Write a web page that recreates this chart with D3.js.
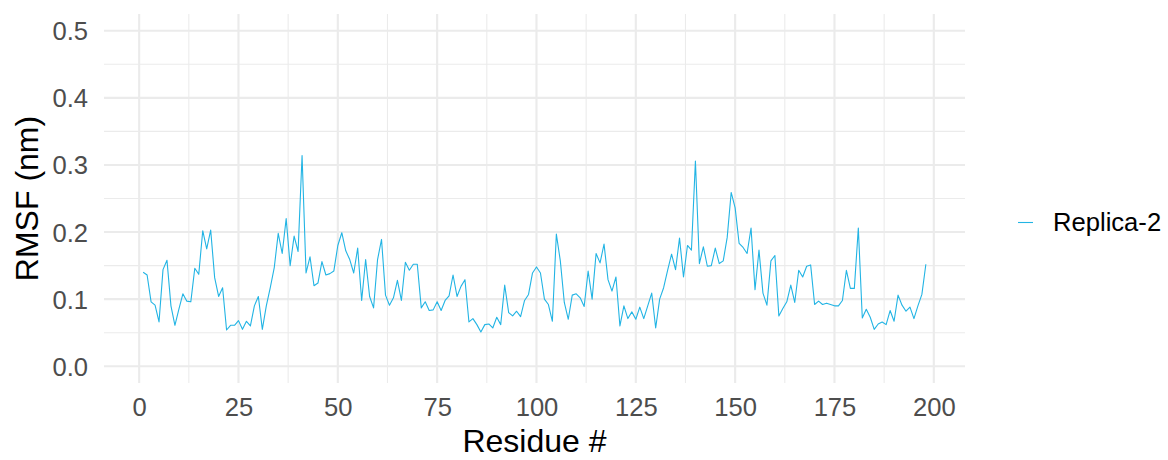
<!DOCTYPE html>
<html>
<head>
<meta charset="utf-8">
<script src="https://cdn.jsdelivr.net/npm/d3@7"></script>
<style>
  html, body { margin: 0; padding: 0; background: #fff; }
  svg { display: block; font-family: "Liberation Sans", Arial, sans-serif; }
</style>
</head>
<body>
<svg id="chart" width="1168" height="460"></svg>
<script>
// Per-residue RMSF (nm) for replica 2, residues 1..198
const residues = d3.range(1, 199);
const rmsf = [
  0.140, 0.136, 0.096, 0.091, 0.066, 0.144, 0.158, 0.090, 0.061, 0.085,
  0.108, 0.097, 0.096, 0.146, 0.137, 0.202, 0.175, 0.203, 0.132, 0.104,
  0.117, 0.054, 0.061, 0.061, 0.068, 0.055, 0.067, 0.060, 0.090, 0.104,
  0.055, 0.090, 0.117, 0.147, 0.198, 0.168, 0.220, 0.150, 0.194, 0.171,
  0.314, 0.139, 0.163, 0.120, 0.124, 0.156, 0.136, 0.138, 0.142, 0.180,
  0.199, 0.172, 0.159, 0.139, 0.176, 0.098, 0.159, 0.104, 0.087, 0.159,
  0.189, 0.106, 0.091, 0.102, 0.128, 0.098, 0.155, 0.143, 0.152, 0.152,
  0.087, 0.096, 0.083, 0.084, 0.096, 0.083, 0.098, 0.105, 0.136, 0.104,
  0.119, 0.129, 0.066, 0.071, 0.062, 0.051, 0.062, 0.063, 0.057, 0.073,
  0.062, 0.121, 0.080, 0.075, 0.082, 0.074, 0.098, 0.107, 0.139, 0.148,
  0.139, 0.100, 0.092, 0.067, 0.197, 0.157, 0.095, 0.070, 0.106, 0.108,
  0.102, 0.089, 0.142, 0.100, 0.168, 0.154, 0.182, 0.129, 0.112, 0.133,
  0.060, 0.090, 0.071, 0.081, 0.070, 0.088, 0.071, 0.090, 0.109, 0.057,
  0.100, 0.117, 0.143, 0.167, 0.144, 0.191, 0.133, 0.180, 0.173, 0.306,
  0.153, 0.178, 0.149, 0.150, 0.176, 0.153, 0.157, 0.192, 0.259, 0.236,
  0.183, 0.177, 0.168, 0.206, 0.114, 0.173, 0.109, 0.091, 0.157, 0.165,
  0.075, 0.086, 0.096, 0.121, 0.095, 0.143, 0.133, 0.149, 0.151, 0.092,
  0.097, 0.092, 0.094, 0.092, 0.090, 0.090, 0.098, 0.143, 0.116, 0.116,
  0.206, 0.072, 0.085, 0.073, 0.055, 0.063, 0.066, 0.062, 0.083, 0.067,
  0.106, 0.091, 0.082, 0.088, 0.071, 0.090, 0.107, 0.152
];
const xTicks = [0, 25, 50, 75, 100, 125, 150, 175, 200];
const xMinor = [12.5, 37.5, 62.5, 87.5, 112.5, 137.5, 162.5, 187.5];
const yTicks = [0.0, 0.1, 0.2, 0.3, 0.4, 0.5];
const yMinor = [0.05, 0.15, 0.25, 0.35, 0.45];
const seriesName = "Replica-2";

const data = residues.map((r, i) => ({ r, v: rmsf[i] }));

const svg = d3.select("#chart");
const panel = { left: 104, right: 965, top: 14, bottom: 383 };
const lineColor = "#22B4E4";
const gridColor = "#EBEBEB";

// continuous scales with ggplot-style 5% padding on x and fixed 0-0.5 limits on y
const xPad = (198 - 1) * 0.05;
const x = d3.scaleLinear().domain([1 - xPad, 198 + xPad]).range([panel.left, panel.right]);
const y = d3.scaleLinear().domain([-0.025, 0.525]).range([panel.bottom, panel.top]);

const grid = svg.append("g");
// minor grid
grid.selectAll(".xminor").data(xMinor).join("line")
  .attr("x1", d => x(d)).attr("x2", d => x(d))
  .attr("y1", panel.top).attr("y2", panel.bottom)
  .attr("stroke", gridColor).attr("stroke-width", 1.07);
grid.selectAll(".yminor").data(yMinor).join("line")
  .attr("y1", d => y(d)).attr("y2", d => y(d))
  .attr("x1", panel.left).attr("x2", panel.right)
  .attr("stroke", gridColor).attr("stroke-width", 1.07);
// major grid
grid.selectAll(".xmajor").data(xTicks).join("line")
  .attr("x1", d => x(d)).attr("x2", d => x(d))
  .attr("y1", panel.top).attr("y2", panel.bottom)
  .attr("stroke", gridColor).attr("stroke-width", 2.13);
grid.selectAll(".ymajor").data(yTicks).join("line")
  .attr("y1", d => y(d)).attr("y2", d => y(d))
  .attr("x1", panel.left).attr("x2", panel.right)
  .attr("stroke", gridColor).attr("stroke-width", 2.13);

// axes (labels only, theme_minimal has no axis lines or ticks)
const xAxis = d3.axisBottom(x).tickValues(xTicks).tickSize(0).tickPadding(0).tickFormat(d3.format("d"));
const gx = svg.append("g").attr("transform", `translate(0,${panel.bottom})`).call(xAxis);
gx.select(".domain").remove();
gx.selectAll("text")
  .attr("y", 0).attr("dy", null)
  .attr("transform", "translate(0,33)")
  .attr("fill", "#4D4D4D").style("font-size", "25.6px")
  .style("font-family", "'Liberation Sans', Arial, sans-serif");

const yAxis = d3.axisLeft(y).tickValues(yTicks).tickSize(0).tickPadding(0).tickFormat(d3.format(".1f"));
const gy = svg.append("g").attr("transform", `translate(${panel.left - 16},0)`).call(yAxis);
gy.select(".domain").remove();
gy.selectAll("text")
  .attr("dy", "0.35em")
  .attr("fill", "#4D4D4D").style("font-size", "25.6px")
  .style("font-family", "'Liberation Sans', Arial, sans-serif");

// data line
const line = d3.line().x(d => x(d.r)).y(d => y(d.v));
svg.append("path").datum(data)
  .attr("d", line)
  .attr("fill", "none")
  .attr("stroke", lineColor)
  .attr("stroke-width", 1.1)
  .attr("stroke-linejoin", "round");

// axis titles
svg.append("text")
  .attr("x", (panel.left + panel.right) / 2).attr("y", 452)
  .attr("text-anchor", "middle")
  .attr("fill", "#000").style("font-size", "32px")
  .text("Residue #");
svg.append("text")
  .attr("transform", `translate(38,${(panel.top + panel.bottom) / 2}) rotate(-90)`)
  .attr("text-anchor", "middle")
  .attr("fill", "#000").style("font-size", "32px")
  .text("RMSF (nm)");

// legend
const lg = svg.append("g").attr("transform", "translate(1018,222.5)");
lg.append("line").attr("x1", 0).attr("x2", 15).attr("y1", 0).attr("y2", 0)
  .attr("stroke", lineColor).attr("stroke-width", 1.1);
lg.append("text").attr("x", 35).attr("y", 0).attr("dy", "0.35em")
  .attr("fill", "#000").style("font-size", "25.6px")
  .text(seriesName);
</script>
</body>
</html>
